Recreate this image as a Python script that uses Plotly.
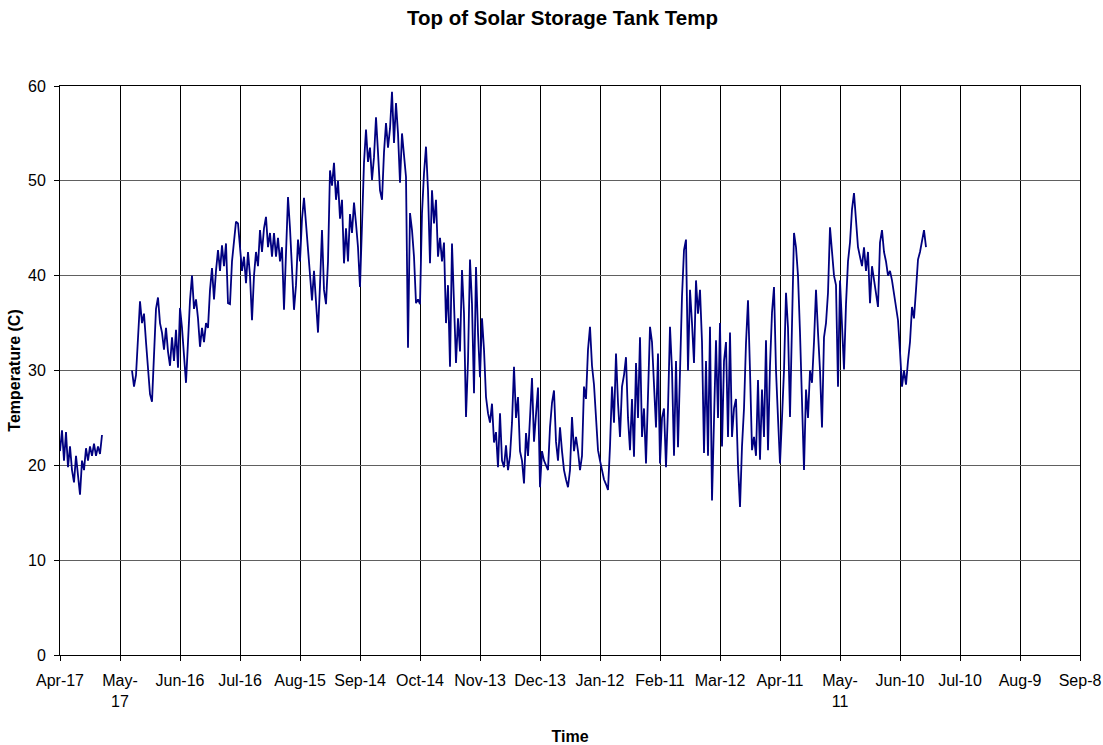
import pandas as pd
import plotly.graph_objects as go

# ---- data: daily readings (deg C) ----
seg_a_start = "2007-04-17"
seg_a_values = [21.5, 23.7, 20.5, 23.5, 19.8, 22.0, 19.5, 18.2, 21.0, 19.0, 16.9,
                20.5, 19.5, 21.8, 20.5, 22.0, 21.0, 22.3, 21.0, 22.0, 21.2, 23.2]

seg_b_start = "2007-05-23"
seg_b_values = [
    30.0, 28.3, 29.5, 33.0, 37.3, 35.0, 36.0, 33.0, 30.0, 27.5,
    26.7, 31.5, 36.5, 37.7, 35.0, 34.0, 32.2, 34.5, 32.0, 30.5,
    33.5, 31.0, 34.3, 30.3, 36.6, 34.5, 31.5, 28.7, 33.0, 37.4,
    40.0, 36.5, 37.5, 35.5, 32.5, 34.5, 33.0, 35.0, 34.5, 38.5,
    40.8, 37.5, 40.5, 42.7, 40.5, 43.2, 41.0, 43.4, 37.1, 37.0,
    41.5, 43.5, 45.7, 45.5, 42.7, 40.5, 42.0, 39.2, 42.5, 40.0,
    35.3, 40.0, 42.5, 41.0, 44.8, 42.5, 45.0, 46.2, 43.0, 44.5,
    42.0, 44.5, 42.0, 44.0, 41.5, 43.0, 36.4, 43.0, 48.3, 45.0,
    40.0, 36.4, 39.0, 43.8, 41.5, 46.0, 48.2, 45.5, 42.0, 39.5,
    37.4, 40.5, 37.0, 34.0, 39.0, 44.8, 38.5, 37.0, 41.5, 51.1,
    49.5, 51.9, 48.0, 50.0, 46.0, 48.0, 41.3, 45.0, 41.5, 46.5,
    44.5, 47.7, 45.5, 43.0, 38.8, 46.0, 51.9, 55.4, 52.0, 53.5,
    50.1, 52.5, 56.7, 53.0, 49.0, 48.0, 53.0, 56.1, 53.5, 55.5,
    59.4, 54.0, 58.2, 55.0, 49.8, 55.0, 53.0, 50.4, 32.4, 46.6,
    44.8, 42.0, 37.1, 37.5, 37.0, 46.6, 50.8, 53.6, 49.0, 41.3,
    49.0, 45.5, 48.0, 42.0, 44.0, 41.5, 43.5, 35.0, 39.0, 30.4,
    43.4, 37.5, 30.8, 35.5, 32.0, 40.6, 36.0, 25.1, 31.0, 41.7,
    37.0, 27.6, 40.9, 34.0, 29.3, 35.5, 32.2, 27.2, 25.5, 24.5,
    26.5, 22.4, 23.5, 19.8, 25.5, 20.5, 19.8, 22.1, 19.5, 21.0,
    24.5, 30.4, 25.0, 27.2, 21.5, 20.5, 18.1, 23.4, 21.0, 25.0,
    29.2, 22.5, 25.0, 28.2, 17.7, 21.5, 20.5, 20.0, 19.5, 24.0,
    26.6, 27.9, 22.5, 20.5, 24.0, 21.5, 19.5, 18.5, 17.7, 19.5,
    25.1, 21.5, 23.0, 21.5, 19.5, 21.0, 28.3, 27.0, 32.2, 34.6,
    30.5, 28.5, 25.0, 21.6, 20.5, 19.5, 18.5, 18.0, 17.4, 22.0,
    28.3, 24.5, 31.8, 26.6, 23.0, 28.3, 29.5, 31.4, 25.0, 21.6,
    27.0, 20.9, 30.8, 25.0, 33.5, 23.0, 26.0, 20.2, 28.0, 34.6,
    33.0, 27.5, 24.0, 31.8, 20.2, 25.0, 26.0, 19.8, 26.0, 34.6,
    30.0, 21.0, 31.0, 21.9, 30.0, 37.8, 42.7, 43.8, 30.0, 38.5,
    35.0, 30.8, 39.5, 36.0, 38.5, 33.0, 21.3, 31.0, 21.0, 34.6,
    16.3, 26.0, 33.2, 25.0, 35.0, 22.0, 31.0, 33.0, 23.0, 34.0,
    23.0, 26.0, 27.0, 20.0, 15.6, 22.0, 26.0, 32.9, 37.4, 30.0,
    21.6, 23.0, 21.0, 29.0, 20.6, 28.0, 23.0, 33.2, 21.6, 30.5,
    36.1, 38.8, 30.0, 25.0, 20.2, 25.0, 30.0, 38.2, 34.5, 25.1,
    35.0, 44.5, 43.0, 40.0, 34.0, 27.6, 19.5, 28.0, 25.0, 30.0,
    28.7, 33.0, 38.5, 34.0, 30.0, 24.0, 33.5, 35.0, 38.2, 45.1,
    42.0, 40.0, 39.0, 28.3, 39.5, 35.0, 30.1, 37.0, 41.5, 43.5,
    47.0, 48.7, 46.0, 43.0, 42.0, 41.0, 43.0, 40.5, 42.5, 37.1,
    41.0, 39.5, 38.0, 36.7, 43.5, 44.8, 42.5, 41.5, 40.0, 40.5,
    39.5, 38.0, 36.5, 35.3, 32.0, 28.3, 30.0, 28.5, 31.0, 33.0,
    36.7, 35.5, 38.5, 41.7, 42.5, 43.5, 44.8, 43.0,
]

tick_dates = ["2007-04-17", "2007-05-17", "2007-06-16", "2007-07-16", "2007-08-15",
              "2007-09-14", "2007-10-14", "2007-11-13", "2007-12-13", "2008-01-12",
              "2008-02-11", "2008-03-12", "2008-04-11", "2008-05-11", "2008-06-10",
              "2008-07-10", "2008-08-09", "2008-09-08"]
tick_labels = ["Apr-17", "May-<br>17", "Jun-16", "Jul-16", "Aug-15", "Sep-14", "Oct-14",
               "Nov-13", "Dec-13", "Jan-12", "Feb-11", "Mar-12", "Apr-11", "May-<br>11",
               "Jun-10", "Jul-10", "Aug-9", "Sep-8"]

# ---- build series (gap between the two recording periods) ----
dates_a = list(pd.date_range(seg_a_start, periods=len(seg_a_values), freq="D"))
dates_b = list(pd.date_range(seg_b_start, periods=len(seg_b_values), freq="D"))
x = dates_a + [dates_a[-1] + pd.Timedelta(hours=12)] + dates_b
y = seg_a_values + [None] + seg_b_values

FONT = "Liberation Sans, Arial, sans-serif"
TICK_SIZE = 16
AX_TITLE_SIZE = 16

fig = go.Figure()
fig.add_trace(go.Scatter(x=x, y=y, mode="lines",
                         line=dict(color="#000080", width=1.8),
                         connectgaps=False, showlegend=False))

fig.update_layout(
    width=1103, height=745,
    margin=dict(l=60, r=23, t=86, b=90),
    paper_bgcolor="white", plot_bgcolor="white",
    title=dict(text="<b>Top of Solar Storage Tank Temp</b>", x=0.51, xanchor="center",
               y=1 - 18 / 745, yanchor="middle",
               font=dict(family=FONT, size=20.5, color="black")),
    font=dict(family=FONT, size=TICK_SIZE, color="black"),
)

fig.update_xaxes(
    type="date",
    range=[tick_dates[0], tick_dates[-1]],
    tickvals=tick_dates, ticktext=tick_labels,
    tickfont=dict(family=FONT, size=TICK_SIZE, color="black"),
    showgrid=True, gridcolor="black", gridwidth=1,
    showline=True, linecolor="black", linewidth=1, mirror=True,
    ticks="outside", ticklen=5, tickcolor="black",
    ticklabelstandoff=6,
    automargin=False,
    title=dict(text="<b>Time</b>", font=dict(family=FONT, size=AX_TITLE_SIZE, color="black"),
               standoff=22),
    zeroline=False,
)
fig.update_yaxes(
    range=[0, 60], dtick=10, tick0=0,
    tickfont=dict(family=FONT, size=TICK_SIZE, color="black"),
    showgrid=True, gridcolor="#606060", gridwidth=1,
    showline=True, linecolor="black", linewidth=1, mirror=True,
    ticks="outside", ticklen=5, tickcolor="black",
    ticklabelstandoff=5,
    automargin=False,
    title=dict(text="<b>Temperature (C)</b>",
               font=dict(family=FONT, size=AX_TITLE_SIZE, color="black"), standoff=3),
    zeroline=False,
)

fig.write_html("out.html", config={"displayModeBar": False},
               post_script="document.body.style.margin='0';")
